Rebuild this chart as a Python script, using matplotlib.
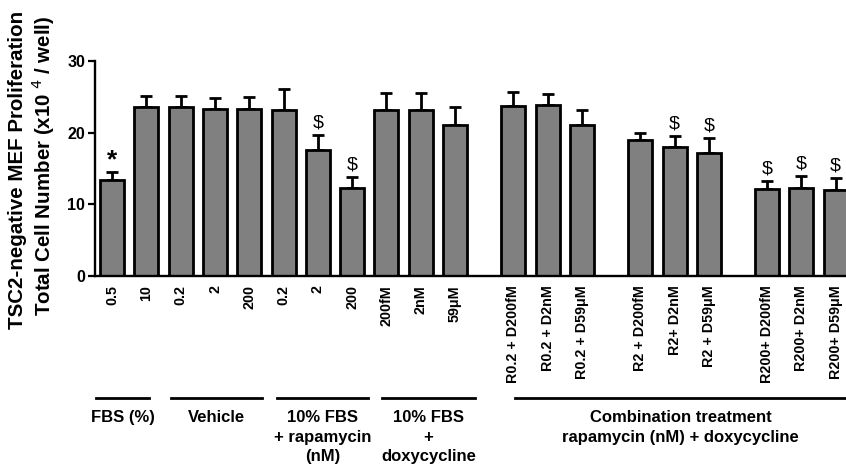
import numpy as np
from matplotlib import pyplot as plt
from matplotlib import transforms

plt.rcParams['font.family'] = ['Liberation Sans', 'DejaVu Sans']

# bar data (x10^4 cells / well)
labels = ['0.5', '10', '0.2', '2', '200', '0.2', '2', '200', '200fM', '2nM', '59\u03bcM',
          'R0.2 + D200fM', 'R0.2 + D2nM', 'R0.2 + D59\u03bcM',
          'R2 + D200fM', 'R2+ D2nM', 'R2 + D59\u03bcM',
          'R200+ D200fM', 'R200+ D2nM', 'R200+ D59\u03bcM']
means = [13.3, 23.6, 23.6, 23.3, 23.3, 23.2, 17.5, 12.3, 23.1, 23.1, 21.1,
         23.7, 23.8, 21.0, 18.9, 18.0, 17.2, 12.1, 12.3, 11.9]
errs = [1.2, 1.5, 1.5, 1.5, 1.7, 2.9, 2.1, 1.5, 2.4, 2.4, 2.4,
        2.0, 1.6, 2.2, 1.0, 1.5, 2.0, 1.1, 1.6, 1.8]
marks = ['*', '', '', '', '', '', '$', '$', '', '', '',
         '', '', '', '', '$', '$', '$', '$', '$']

# group captions below the axis and the span of their lines (in bar units)
group_names = ['FBS (%)', 'Vehicle', '10% FBS\n+ rapamycin\n(nM)', '10% FBS\n+\ndoxycycline',
               'Combination treatment\nrapamycin (nM) + doxycycline']
group_spans = [(-0.47, 1.08), (1.71, 4.37), (4.8, 7.46), (7.86, 10.58), (11.75, 21.4)]

# x positions: first 11 bars side by side, then 3 combination triplets with gaps
x = list(range(11))
for g in range(3):
    x += [11.7 + g * 3.7 + i for i in range(3)]
x = np.array(x)

fig = plt.figure(figsize=(8.46, 4.66), dpi=100)
ax = fig.add_axes([95 / 846, 1 - 275.5 / 466, 1 - 95 / 846, (275.5 - 61) / 466])

ax.bar(x, means, width=0.7, color='#808080', edgecolor='black', linewidth=2.0, zorder=2)
ax.errorbar(x, means, yerr=[np.zeros(len(errs)), errs], fmt='none', ecolor='black',
            elinewidth=2.0, capsize=4.5, capthick=2.0, zorder=1)

for xi, m, e, s in zip(x, means, errs, marks):
    if s == '*':
        ax.annotate('*', (xi, m + e), xytext=(0, 0), textcoords='offset points',
                    ha='center', va='bottom', fontsize=19, fontweight='bold')
    elif s == '$':
        ax.annotate('\\$', (xi, m + e), xytext=(0, 2.5), textcoords='offset points',
                    ha='center', va='bottom', fontsize=14)

ax.set_xlim(-0.5, 21.4)
ax.set_ylim(0, 30)
ax.set_yticks([0, 10, 20, 30])
ax.set_xticks(x)
ax.set_xticklabels(labels, rotation=90, fontsize=10.3, fontweight='bold')
ax.tick_params(axis='x', length=0, pad=7)
ax.tick_params(axis='y', length=5, width=1.6, labelsize=11.5, pad=2)
for t in ax.get_yticklabels():
    t.set_fontweight('bold')
for side in ['top', 'right']:
    ax.spines[side].set_visible(False)
for side in ['left', 'bottom']:
    ax.spines[side].set_linewidth(1.7)

# group lines and captions
trans = transforms.blended_transform_factory(ax.transData, fig.transFigure)
line_y = 1 - 398 / 466
text_y = 1 - 410 / 466
for name, (x0, x1) in zip(group_names, group_spans):
    ax.plot([x0, x1], [line_y, line_y], color='black', lw=2.0, transform=trans, clip_on=False)
    ax.text((x0 + x1) / 2, text_y, name, transform=trans, ha='center', va='top',
            fontsize=12, fontweight='bold', linespacing=1.38)

fig.text(18 / 846, 1 - 170 / 466, 'TSC2-negative MEF Proliferation', rotation=90,
         ha='center', va='center', fontsize=14.8, fontweight='bold')
fig.text(43 / 846, 1 - 166 / 466, 'Total Cell Number (x10$^{\\ 4}$ / well)', rotation=90,
         ha='center', va='center', fontsize=14.8, fontweight='bold')

fig.savefig('out.png', dpi=100)
